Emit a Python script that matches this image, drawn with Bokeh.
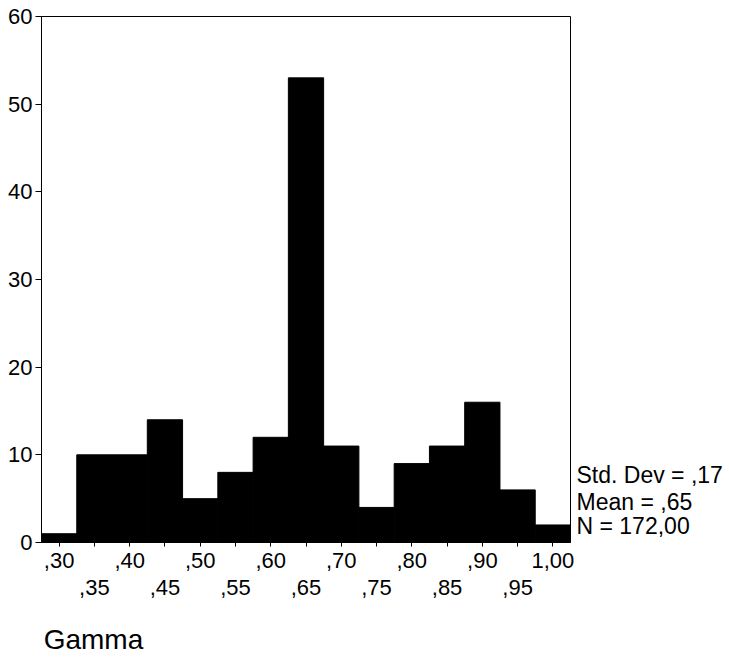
import numpy as np
from bokeh.plotting import figure
from bokeh.models import LinearAxis, FixedTicker, Range1d
from bokeh.embed import file_html
from bokeh.resources import INLINE

# ---- data ----
bin_labels = [",30", ",35", ",40", ",45", ",50", ",55", ",60", ",65",
              ",70", ",75", ",80", ",85", ",90", ",95", "1,00"]
counts = [1, 10, 10, 14, 5, 8, 12, 53, 11, 4, 9, 11, 16, 6, 2]
y_ticks = [0, 10, 20, 30, 40, 50, 60]
stats_lines = ["Std. Dev = ,17", "Mean = ,65", "N = 172,00"]
x_title = "Gamma"

FONT = "Liberation Sans"
W, H = 729, 660
L, R, T, B = 41, 159, 16, 118
n = len(counts)
idx = list(range(n))
YMAX = 60

p = figure(width=W, height=H, output_backend="svg", toolbar_location=None,
           x_range=Range1d(-0.5, n - 0.5), y_range=Range1d(0, YMAX),
           x_axis_location=None, y_axis_location="left",
           min_border_left=L, min_border_right=R, min_border_top=T,
           min_border_bottom=B)
p.grid.visible = False
p.outline_line_color = "black"
p.outline_line_width = 1
p.background_fill_color = "white"
p.border_fill_color = "white"

p.vbar(x=idx, top=counts, bottom=0, width=1.0,
       fill_color="black", line_color="black", line_width=1)

# y axis
ya = p.yaxis[0]
ya.ticker = FixedTicker(ticks=y_ticks)
ya.major_tick_in = 0
ya.major_tick_out = 6
ya.major_label_standoff = 3
ya.minor_tick_line_color = None
ya.axis_line_color = "black"
ya.major_tick_line_color = "black"
ya.major_label_text_font = FONT
ya.major_label_text_font_size = "22px"
ya.major_label_text_color = "black"

def bare_axis(ticks, overrides, standoff, size):
    return LinearAxis(
        ticker=FixedTicker(ticks=ticks), major_label_overrides=overrides,
        major_tick_in=0, major_tick_out=0, major_label_standoff=standoff,
        axis_line_color=None, major_tick_line_color=None,
        minor_tick_line_color=None,
        major_label_text_font=FONT, major_label_text_font_size=size,
        major_label_text_color="black")

# x axis, first row of labels (every other bin) with a tick at every bin
ax1 = LinearAxis(
    ticker=FixedTicker(ticks=idx),
    major_label_overrides={i: (bin_labels[i] if i % 2 == 0 else "") for i in idx},
    major_tick_in=0, major_tick_out=4, major_label_standoff=6,
    axis_line_color="black", major_tick_line_color="black",
    minor_tick_line_color=None,
    major_label_text_font=FONT, major_label_text_font_size="22px",
    major_label_text_color="black")
p.add_layout(ax1, "below")

# x axis, second row of labels
odd = idx[1::2]
p.add_layout(bare_axis(odd, {i: bin_labels[i] for i in odd}, 9, "22px"), "below")

# axis title "Gamma", left part of the area below the labels
px_x = (W - L - R) / n
title_centre = round(-0.5 + 52 / px_x, 3)
p.add_layout(bare_axis([title_centre], {title_centre: x_title}, 26, "28px"), "below")

# statistics block to the right of the frame, as labels of a bare right axis
px_y = (H - T - B) / YMAX
stat_centres_px = [67, 40, 17]   # pixels above the frame bottom
stat_ticks = [round(c / px_y, 3) for c in stat_centres_px]
p.add_layout(bare_axis(stat_ticks, dict(zip(stat_ticks, stats_lines)), 6, "23px"), "right")

open("out.html", "w").write(file_html(p, INLINE))
